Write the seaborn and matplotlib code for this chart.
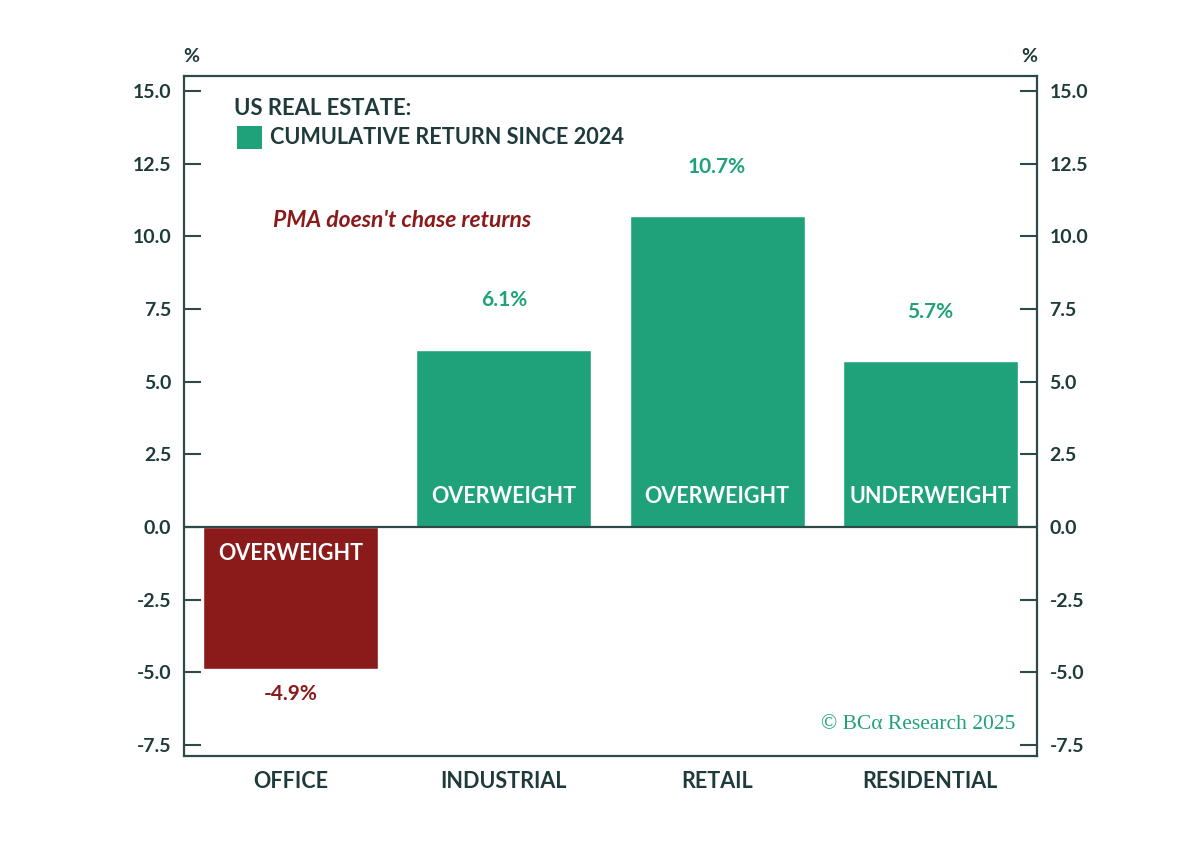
import seaborn as sns
import matplotlib.pyplot as plt
from matplotlib.patches import Rectangle
import pandas as pd

# data
sectors = ["OFFICE", "INDUSTRIAL", "RETAIL", "RESIDENTIAL"]
returns = [-4.9, 6.1, 10.7, 5.7]
stance = ["OVERWEIGHT", "OVERWEIGHT", "OVERWEIGHT", "UNDERWEIGHT"]
yticks = [-7.5, -5.0, -2.5, 0.0, 2.5, 5.0, 7.5, 10.0, 12.5, 15.0]

# colours
green = "#1fa27a"
red = "#8b1a1a"
axis_col = "#2e4a48"
text_col = "#1f3a3a"

df = pd.DataFrame({"sector": sectors, "ret": returns})
bar_cols = [red if v < 0 else green for v in returns]

sns.set_style("white")
plt.rcParams["font.family"] = ["Lato", "DejaVu Sans"]

fig = plt.figure(figsize=(12, 8.66), dpi=100)
ax = fig.add_axes([0.1533, 0.127, 0.7109, 0.7852])

sns.barplot(data=df, x="sector", y="ret", hue="sector", palette=bar_cols,
            width=0.82, saturation=1, legend=False, ax=ax)

ax.axhline(0, color=axis_col, linewidth=1.6)
ax.set_ylim(-7.88, 15.52)
ax.set_xlim(-0.5, 3.5)
ax.set_xlabel("")
ax.set_ylabel("")

# y axis on both sides, ticks inward
ax.set_yticks(yticks)
ax.set_yticklabels([f"{t:.1f}" for t in yticks])
ax.tick_params(axis="y", which="both", direction="in", length=12, width=1.5,
               color=axis_col, labelcolor=text_col, labelsize=14,
               left=True, right=True, labelleft=True, labelright=True, pad=9)
for lab in ax.get_yticklabels():
    lab.set_fontweight("bold")

# category labels, separator ticks between categories
ax.tick_params(axis="x", which="major", length=0, labelsize=15.5,
               labelcolor=text_col, pad=11)
ax.set_xticks([0.5, 1.5, 2.5], minor=True)
ax.tick_params(axis="x", which="minor", direction="in", length=12, width=1.8,
               color=axis_col)
for lab in ax.get_xticklabels():
    lab.set_fontweight("bold")

for spine in ax.spines.values():
    spine.set_visible(True)
    spine.set_edgecolor(axis_col)
    spine.set_linewidth(1.6)

# value labels and stance labels
for i, (v, s) in enumerate(zip(returns, stance)):
    if v >= 0:
        ax.text(i, v + 1.7, f"{v:.1f}%", ha="center", va="center",
                color=green, fontsize=15, fontweight="bold")
        ax.text(i, 1.05, s, ha="center", va="center", color="white",
                fontsize=15.5, fontweight="bold")
    else:
        ax.text(i, v - 0.85, f"{v:.1f}%", ha="center", va="center",
                color=red, fontsize=15, fontweight="bold")
        ax.text(i, -0.9, s, ha="center", va="center", color="white",
                fontsize=15.5, fontweight="bold")

# legend-like header
ax.text(0.059, 0.952, "US REAL ESTATE:", transform=ax.transAxes,
        ha="left", va="center", color=text_col, fontsize=15.8, fontweight="bold")
ax.add_patch(Rectangle((0.062, 0.892), 0.029, 0.035, transform=ax.transAxes,
                       facecolor=green, edgecolor="none"))
ax.text(0.101, 0.909, "CUMULATIVE RETURN SINCE 2024", transform=ax.transAxes,
        ha="left", va="center", color=text_col, fontsize=15.6, fontweight="bold")
ax.text(0.104, 0.788, "PMA doesn't chase returns", transform=ax.transAxes,
        ha="left", va="center", color=red, fontsize=16.5, fontweight="bold",
        style="italic")

# % unit labels
fig.text(191 / 1200, 1 - 57 / 866, "%", ha="center", va="center",
         color=text_col, fontsize=14, fontweight="bold")
fig.text(1029 / 1200, 1 - 57 / 866, "%", ha="center", va="center",
         color=text_col, fontsize=14, fontweight="bold")

# source
ax.text(0.975, 0.047, "© BCα Research 2025", transform=ax.transAxes,
        ha="right", va="center", color=green, fontsize=15.5,
        family=["Liberation Serif", "DejaVu Serif"])

plt.savefig("out.png", dpi=100)
